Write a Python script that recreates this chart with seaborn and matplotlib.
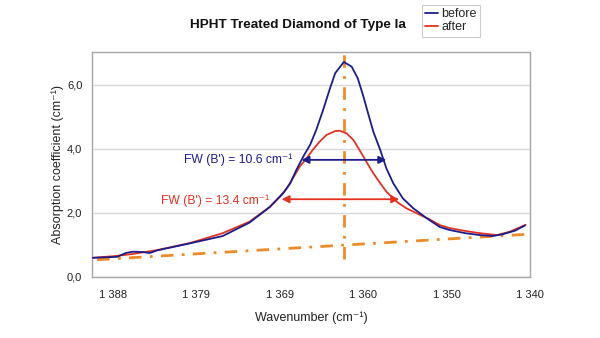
import matplotlib
matplotlib.use("Agg")
import matplotlib.pyplot as plt
import seaborn as sns
import pandas as pd

# ---- data ----
before_wn = [1390.7, 1387.9, 1386.9, 1386.1, 1385.0, 1384.1, 1383.3, 1379.5, 1375.7,
             1372.6, 1370.3, 1368.7, 1367.9, 1367.2, 1366.4, 1365.6, 1364.9, 1364.1,
             1363.3, 1362.7, 1361.7, 1360.8, 1360.1, 1359.5, 1358.9, 1358.3, 1357.5,
             1356.8, 1356.0, 1354.9, 1353.7, 1352.1, 1350.6, 1349.5, 1347.7, 1346.0,
             1344.5, 1343.3, 1341.9, 1340.8]
before_abs = [0.60, 0.63, 0.75, 0.79, 0.78, 0.75, 0.83, 1.05, 1.28,
              1.70, 2.18, 2.62, 2.93, 3.34, 3.76, 4.13, 4.59, 5.22,
              5.90, 6.37, 6.72, 6.57, 6.21, 5.69, 5.11, 4.54, 3.97,
              3.40, 2.93, 2.46, 2.15, 1.83, 1.56, 1.47, 1.37, 1.31,
              1.28, 1.34, 1.45, 1.61]
after_wn = [1390.7, 1387.9, 1386.1, 1383.3, 1379.5, 1375.7, 1372.6, 1370.3, 1369.1,
            1368.3, 1367.6, 1366.8, 1366.0, 1365.3, 1364.5, 1363.7, 1362.7, 1362.2,
            1361.4, 1360.6, 1359.9, 1359.1, 1358.3, 1357.5, 1356.8, 1355.6, 1354.5,
            1352.9, 1351.8, 1350.6, 1349.5, 1347.7, 1346.0, 1344.0, 1342.5, 1340.7]
after_abs = [0.60, 0.66, 0.72, 0.84, 1.06, 1.37, 1.73, 2.18, 2.51,
             2.77, 3.08, 3.45, 3.71, 3.97, 4.23, 4.44, 4.56, 4.57,
             4.49, 4.28, 3.97, 3.60, 3.24, 2.93, 2.67, 2.35, 2.15,
             1.94, 1.80, 1.62, 1.53, 1.44, 1.37, 1.31, 1.42, 1.63]
baseline_wn = [1390.2, 1340.2]
baseline_abs = [0.54, 1.34]
peak_wn = 1361.7
peak_line_abs = [0.56, 7.09]
fw_before = (1366.6, 1356.8, 3.66)   # left, right, level
fw_after = (1368.9, 1355.3, 2.43)
fw_before_label = "FW (B') = 10.6 cm⁻¹"
fw_after_label = "FW (B') = 13.4 cm⁻¹"
xtick_vals = [1388.4, 1378.8, 1369.1, 1359.5, 1349.8, 1340.2]
xtick_labels = ["1 388", "1 379", "1 369", "1 360", "1 350", "1 340"]
ytick_vals = [0, 2, 4, 6]
ytick_labels = ["0,0", "2,0", "4,0", "6,0"]

NAVY = "#1c1c8c"
RED = "#e2321f"
ORANGE = "#f08a24"
FAM = ["Liberation Sans", "DejaVu Sans"]

sns.set_theme(style="white")
plt.rcParams["font.family"] = FAM

fig = plt.figure(figsize=(6, 3.38), dpi=100)
ax = fig.add_axes([92/600, 1-277/338, (530-92)/600, (277-52)/338])

df_b = pd.DataFrame({"wn": before_wn, "a": before_abs})
df_a = pd.DataFrame({"wn": after_wn, "a": after_abs})

sns.lineplot(data=df_b, x="wn", y="a", ax=ax, color=NAVY, lw=1.3, sort=False,
             estimator=None, label="before", zorder=4)
sns.lineplot(data=df_a, x="wn", y="a", ax=ax, color=RED, lw=1.3, sort=False,
             estimator=None, label="after", zorder=3)
for ln in ax.get_lines():
    ln.set_solid_joinstyle("round")

dash = (4.5, 3, 1, 3)
ax.plot(baseline_wn, baseline_abs, color=ORANGE, lw=2, dashes=dash, zorder=2)
ax.plot([peak_wn, peak_wn], peak_line_abs, color=ORANGE, lw=2, dashes=dash,
        zorder=2, clip_on=False)

for (l, r, yv), c in ((fw_before, NAVY), (fw_after, RED)):
    ax.annotate("", xy=(r, yv), xytext=(l, yv),
                arrowprops=dict(arrowstyle="<|-|>", color=c, lw=1.3,
                                mutation_scale=11, shrinkA=0, shrinkB=0),
                zorder=5)

ax.text(1367.7, fw_before[2], fw_before_label, color=NAVY, fontsize=8.7,
        ha="right", va="center", family=FAM)
ax.text(1370.3, fw_after[2] - 0.05, fw_after_label, color=RED, fontsize=8.7,
        ha="right", va="center", family=FAM)

ax.set_xlim(1390.8, 1340.2)
ax.set_ylim(0, 7.03)
ax.set_xticks(xtick_vals)
ax.set_xticklabels(xtick_labels)
ax.set_yticks(ytick_vals)
ax.set_yticklabels(ytick_labels)
ax.yaxis.grid(True, color="#d9d9d9", lw=1)
ax.set_axisbelow(True)
for s in ax.spines.values():
    s.set_color("#a6a6a6")
    s.set_linewidth(1)
ax.tick_params(axis="both", labelsize=8, colors="#a6a6a6", labelcolor="#222222",
               length=3, width=1, direction="out")
ax.tick_params(axis="x", pad=6)
ax.tick_params(axis="y", pad=4)
ax.set_xlabel("Wavenumber (cm⁻¹)", fontsize=9, color="#222222", labelpad=9)
ax.set_ylabel("Absorption coefficient (cm⁻¹)", fontsize=9, color="#222222",
              labelpad=2)

ax.get_legend().remove()
h, lab = ax.get_legend_handles_labels()
leg = fig.legend(h[:2], lab[:2], loc="upper left", bbox_to_anchor=(422/600, 1-5/338),
                 fontsize=9, frameon=True, fancybox=False, handlelength=1.0,
                 handletextpad=0.3, borderpad=0.25, labelspacing=0.1,
                 borderaxespad=0)
leg.get_frame().set_edgecolor("#c0c0c0")
leg.get_frame().set_linewidth(0.8)

fig.text(298/600, 1-25/338, "HPHT Treated Diamond of Type Ia", ha="center",
         va="center", fontsize=9.7, fontweight="bold", color="#111111")

fig.savefig("out.png", dpi=100)
